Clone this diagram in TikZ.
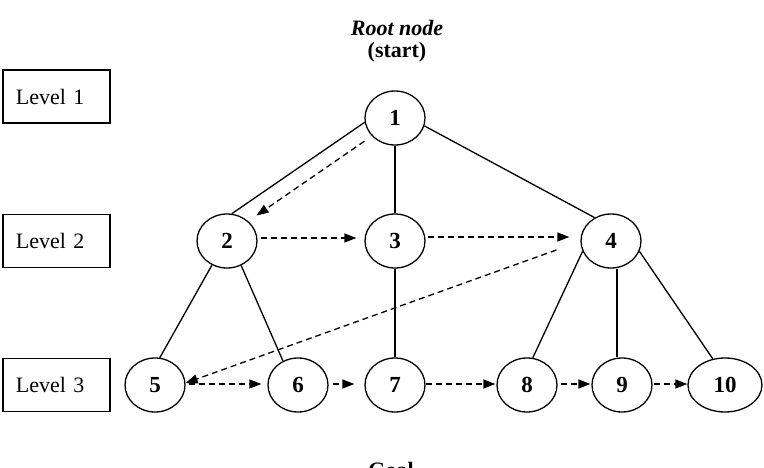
\documentclass[tikz,border=0pt]{standalone}
\usepackage{fontspec}
\setmainfont{Liberation Serif}
\usepackage{tikz}
\usetikzlibrary{shapes.geometric,arrows.meta}

\tikzset{
  levelbox/.style={draw, line width=1.2pt, rectangle, inner xsep=13pt, text width=81pt,
    align=left, minimum height=53pt, font=\fontsize{22}{26}\selectfont},
  state/.style={draw, line width=1.3pt, ellipse, minimum width=60pt, minimum height=54pt,
    inner sep=0pt, font=\fontsize{23}{26}\selectfont\bfseries},
  tree/.style={line width=1.3pt},
  flow/.style={line width=1.3pt, dash pattern=on 6pt off 4pt,
    -{Triangle[length=12pt,width=9pt]}},
}

\begin{document}
\begin{tikzpicture}[x=1pt,y=-1pt]
    \useasboundingbox (0,0) rectangle (764,468);

    % Row heights of the three levels
    \pgfmathsetmacro{\rowOne}{118}
    \pgfmathsetmacro{\rowTwo}{241}
    \pgfmathsetmacro{\rowThree}{385}

    % Titles at top and bottom
    \node[font=\fontsize{22}{22}\selectfont\bfseries, align=center] (roottitle) at (397,41)
      {{\itshape Root node}\\(start)};
    \node[font=\fontsize{22}{26}\selectfont\bfseries, anchor=north, inner sep=0pt] (goal) at (391,462) {Goal};

    % Level boxes on the left
    \node[levelbox] (lvlone) at (56.5,96.5) {Level 1};
    \node[levelbox] (lvltwo) at (56.5,\rowTwo) {Level 2};
    \node[levelbox] (lvlthree) at (56.5,\rowThree) {Level 3};

    % The nodes of the tree
    \node[state] (n1) at (395,\rowOne) {1};
    \node[state] (n2) at (227,\rowTwo) {2};
    \node[state] (n3) at (395,\rowTwo) {3};
    \node[state] (n4) at (611,\rowTwo) {4};
    \node[state] (n5) at (155,\rowThree) {5};
    \node[state] (n6) at (298,\rowThree) {6};
    \node[state] (n7) at (395,\rowThree) {7};
    \node[state] (n8) at (527,\rowThree) {8};
    \node[state] (n9) at (622,\rowThree) {9};
    \node[state, minimum width=74pt] (n10) at (725,\rowThree) {10};

    % Tree edges
    \draw[tree] (n1.188) -- (n2.80);
    \draw[tree] (n1) -- (n3);
    \draw[tree] (n1.-15) -- (n4.125);
    \draw[tree] (n2.238) -- (n5.80);
    \draw[tree] (n2.300) -- (n6.122);
    \draw[tree] (n3) -- (n7);
    \draw[tree] (n4.200) -- (n8.78);
    \draw[tree] ([xshift=6pt]n4.south) -- ([xshift=-5pt]n9.north);
    \draw[tree] (n4.-20) -- (n10.115);

    % Search order (dashed arrows)
    \draw[flow, shorten <=9pt, shorten >=10pt] (n1.218) -- (n2.43);
    \draw[flow, shorten <=3pt, shorten >=8pt] ([yshift=3pt]n2.east) -- ([yshift=3pt]n3.west);
    \draw[flow, shorten <=2pt, shorten >=11pt] ([yshift=4pt]n3.east) -- ([yshift=4pt]n4.west);
    \draw[flow] ([xshift=-24pt,yshift=-9pt]n4.west) -- ([yshift=2pt]n5.east);
    \draw[flow, shorten <=3pt, shorten >=6pt] ([yshift=1pt]n5.east) -- ([yshift=1pt]n6.west);
    \draw[flow, shorten <=4pt, shorten >=10pt] ([yshift=1pt]n6.east) -- ([yshift=1pt]n7.west);
    \draw[flow, shorten >=1pt] ([yshift=1pt]n7.east) -- ([yshift=1pt]n8.west);
    \draw[flow, shorten <=3pt, shorten >=1pt] ([yshift=1pt]n8.east) -- ([yshift=1pt]n9.west);
    \draw[flow, shorten <=1pt] ([yshift=1pt]n9.east) -- ([yshift=1pt]n10.west);
\end{tikzpicture}
\end{document}
